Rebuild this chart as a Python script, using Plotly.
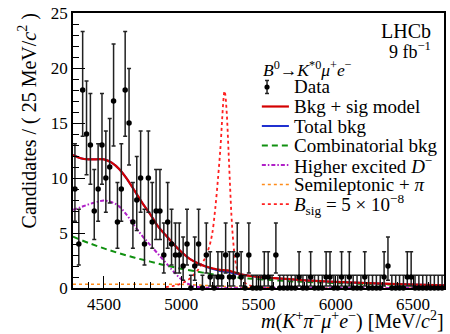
import numpy as np
import plotly.graph_objects as go

# ---------------- data ----------------
bin_low = 4300.0
bin_width = 25.0
counts = [9, 4, 18, 14, 13, 7, 9, 13, 10, 11, 17, 6, 9, 18, 15, 6, 8, 10, 4, 10,
          6, 7, 7, 3, 6, 4, 3, 3, 2, 4, 0, 2, 4, 0, 3, 1, 0, 1, 1, 3,
          1, 1, 3, 1, 0, 3, 0, 0, 0, 1, 1, 0, 3, 0, 0, 0, 0, 0, 1, 0,
          0, 1, 0, 0, 0, 1, 1, 0, 0, 1, 0, 1, 0, 0, 0, 1, 0, 0, 0, 0,
          1, 2, 0, 0, 0, 0, 1, 1, 0, 0, 0, 0, 0, 0, 0, 0]

# Poisson 68% interval half-widths (lower, upper) for n = 0..18
pois_low = [0.0, 0.827, 1.291, 1.633, 1.914, 2.159, 2.380, 2.581, 2.768, 2.943,
            3.108, 3.265, 3.414, 3.557, 3.695, 3.828, 3.957, 4.082, 4.204]
pois_up = [1.148, 2.299, 2.637, 2.918, 3.162, 3.382, 3.583, 3.770, 3.945, 4.109,
           4.265, 4.414, 4.556, 4.693, 4.824, 4.951, 5.074, 5.192, 5.308]

# model curves
tot_x = [4300, 4350, 4400, 4450, 4500, 4550, 4600, 4650, 4700, 4750, 4800, 4850, 4900,
         4950, 5000, 5050, 5100, 5150, 5200, 5250, 5300, 5350, 5400, 5450, 5500, 5600,
         5700, 5800, 5900, 6000, 6200, 6400, 6700]
tot_y = [12.1, 11.8, 11.7, 11.7, 11.7, 11.4, 10.8, 9.9, 8.8, 7.7, 6.7, 5.6, 4.8,
         4.0, 3.3, 2.7, 2.3, 2.0, 1.8, 1.65, 1.6, 1.4, 1.2, 1.1, 1.0, 0.9,
         0.8, 0.7, 0.62, 0.55, 0.45, 0.35, 0.25]
bkg_y = [12.1, 11.8, 11.7, 11.7, 11.7, 11.4, 10.8, 9.9, 8.8, 7.7, 6.7, 5.6, 4.8,
         4.0, 3.3, 2.7, 2.3, 2.0, 1.75, 1.55, 1.45, 1.3, 1.2, 1.1, 1.0, 0.9,
         0.8, 0.7, 0.62, 0.55, 0.45, 0.35, 0.25]

comb_x = [4300, 4400, 4500, 4600, 4700, 4800, 4900, 5000, 5100, 5200, 5300, 5400, 5500,
          5700, 5900, 6100, 6300, 6500, 6700]
comb_y = [4.67, 4.1, 3.6, 3.15, 2.75, 2.4, 2.05, 1.75, 1.5, 1.25, 1.05, 0.9, 0.8,
          0.62, 0.5, 0.4, 0.32, 0.26, 0.2]

dst_x = [4300, 4350, 4400, 4450, 4500, 4550, 4600, 4650, 4700, 4750, 4800, 4850, 4900,
         4950, 5000, 5050, 5100, 5150, 5200, 5300, 5500, 6700]
dst_y = [7.1, 7.35, 7.6, 7.8, 7.95, 7.8, 7.4, 6.6, 5.6, 4.7, 3.9, 3.1, 2.3,
         1.5, 0.8, 0.35, 0.12, 0.04, 0.01, 0.0, 0.0, 0.0]

semi_x = [4300, 4500, 4700, 4900, 5000, 5100, 5200, 5300, 5400, 5500, 6700]
semi_y = [0.35, 0.35, 0.35, 0.35, 0.33, 0.28, 0.2, 0.1, 0.04, 0.01, 0.0]

sig_x = [4900, 4950, 5000, 5050, 5100, 5150, 5180, 5200, 5220, 5240, 5255, 5265, 5275,
         5280, 5285, 5295, 5305, 5315, 5325, 5335, 5350, 5370, 5400, 5450, 5500, 5600]
sig_y = [0.08, 0.2, 0.4, 0.8, 1.5, 2.6, 3.7, 4.9, 7.2, 10.3, 13.0, 15.4, 17.4,
         17.9, 17.6, 15.8, 12.8, 9.6, 6.6, 4.5, 2.5, 1.3, 0.6, 0.2, 0.06, 0.01]

x_tickvals = [4500, 5000, 5500, 6000, 6500]
y_tickvals = [0, 5, 10, 15, 20, 25]

# ---------------- figure ----------------
centers = bin_low + bin_width * (np.arange(len(counts)) + 0.5)
err_up = [pois_up[n] for n in counts]
err_dn = [pois_low[n] for n in counts]

FONT = "Liberation Serif"
RED = "#d40000"
BLUE = "#2030d0"
GREEN = "#109010"
PURPLE = "#b020c8"
ORANGE = "#ff8c1a"
SIGRED = "#ff2020"
DASH_G = "6px,4px"
DASH_P = "4px,2px,1.5px,2px"

fig = go.Figure()
fig.add_trace(go.Scatter(x=semi_x, y=semi_y, mode="lines",
                         line=dict(color=ORANGE, width=1.5, dash="dot")))
fig.add_trace(go.Scatter(x=dst_x, y=dst_y, mode="lines", line_shape="spline",
                         line=dict(color=PURPLE, width=2, dash=DASH_P)))
fig.add_trace(go.Scatter(x=comb_x, y=comb_y, mode="lines", line_shape="spline",
                         line=dict(color=GREEN, width=2, dash=DASH_G)))
fig.add_trace(go.Scatter(x=sig_x, y=sig_y, mode="lines", line_shape="spline",
                         line=dict(color=SIGRED, width=1.8, dash="dot")))
fig.add_trace(go.Scatter(x=tot_x, y=bkg_y, mode="lines", line_shape="spline",
                         line=dict(color=BLUE, width=2)))
fig.add_trace(go.Scatter(x=tot_x, y=tot_y, mode="lines", line_shape="spline",
                         line=dict(color=RED, width=2.2)))
fig.add_trace(go.Scatter(x=centers, y=counts, mode="markers",
                         marker=dict(color="black", size=5.5),
                         cliponaxis=False,
                         error_y=dict(type="data", symmetric=False, array=err_up,
                                      arrayminus=err_dn, thickness=1.5, width=2,
                                      color="#222222")))

fig.update_layout(
    width=450, height=334,
    margin=dict(l=73, r=4, t=13, b=46),
    paper_bgcolor="white", plot_bgcolor="white",
    showlegend=False,
    font=dict(family=FONT, color="black"),
)
fig.update_xaxes(range=[4300, 6700], tickvals=x_tickvals, ticks="inside", ticklen=12,
                 tickwidth=1.2, tickcolor="black", showline=True, linecolor="black",
                 linewidth=1.5, mirror=True, showgrid=False, zeroline=False,
                 tickfont=dict(size=17, family=FONT),
                 minor=dict(dtick=100, ticks="inside", ticklen=6, tickcolor="black",
                            tickwidth=1, showgrid=False))
fig.update_yaxes(range=[0, 25], tickvals=y_tickvals, ticks="inside", ticklen=12,
                 tickwidth=1.2, tickcolor="black", showline=True, linecolor="black",
                 linewidth=1.5, mirror=True, showgrid=False, zeroline=False,
                 tickfont=dict(size=17, family=FONT),
                 minor=dict(dtick=1, ticks="inside", ticklen=6, tickcolor="black",
                            tickwidth=1, showgrid=False))

ann = []
ann.append(dict(text="Candidates / ( 25 MeV/<i>c</i><sup>2</sup> )", textangle=-90,
                xref="paper", yref="paper", x=-0.123, y=0.607, showarrow=False,
                xanchor="center", yanchor="middle", font=dict(size=20, family=FONT)))
ann.append(dict(text="<i>m</i>(<i>K</i><sup>+</sup><i>π</i><sup>−</sup><i>μ</i><sup>+</sup><i>e</i><sup>−</sup>) [MeV/<i>c</i><sup>2</sup>]",
                xref="paper", yref="paper", x=1.0, y=-0.118, xshift=2, showarrow=False,
                xanchor="right", yanchor="middle", font=dict(size=20, family=FONT)))
ann.append(dict(text="LHCb", xref="paper", yref="paper", x=0.9705, y=0.935,
                showarrow=False, xanchor="right", yanchor="middle",
                font=dict(size=20, family=FONT)))
ann.append(dict(text="9 fb<sup>−1</sup>", xref="paper", yref="paper", x=0.9705, y=0.865,
                showarrow=False, xanchor="right", yanchor="middle",
                font=dict(size=18, family=FONT)))
ann.append(dict(text="<i>B</i><sup>0</sup>→<i>K</i><sup>*0</sup><i>μ</i><sup>+</sup><i>e</i><sup>−</sup>",
                xref="paper", yref="paper", x=0.507, y=0.796, showarrow=False,
                xanchor="left", yanchor="middle", font=dict(size=17.5, family=FONT)))

leg_labels = ["Data", "Bkg + sig model", "Total bkg", "Combinatorial bkg",
              "Higher excited <i>D</i><sup>−</sup>", "Semileptonic + <i>π</i>",
              "<i>B</i><sub>sig</sub> = 5 × 10<sup>−8</sup>"]
leg_y = [0.731, 0.660, 0.589, 0.518, 0.447, 0.376, 0.305]
leg_styles = [None, (RED, "solid", 2.2), (BLUE, "solid", 2), (GREEN, DASH_G, 2),
              (PURPLE, DASH_P, 2), (ORANGE, "dot", 1.5), (SIGRED, "dot", 1.8)]
shapes = []
for lab, yy, st in zip(leg_labels, leg_y, leg_styles):
    ann.append(dict(text=lab, xref="paper", yref="paper", x=0.59, y=yy,
                    showarrow=False, xanchor="left", yanchor="middle",
                    font=dict(size=19, family=FONT)))
    if st is not None:
        shapes.append(dict(type="line", xref="paper", yref="paper", x0=0.509, x1=0.582,
                           y0=yy, y1=yy, line=dict(color=st[0], dash=st[1], width=st[2])))
    else:
        xc = 0.523
        h = 6.5 / 275
        w = 2.0 / 373
        shapes.append(dict(type="line", xref="paper", yref="paper", x0=xc, x1=xc,
                           y0=yy - h, y1=yy + h, line=dict(color="#222", width=1.5)))
        for dy in (-h, h):
            shapes.append(dict(type="line", xref="paper", yref="paper", x0=xc - w,
                               x1=xc + w, y0=yy + dy, y1=yy + dy,
                               line=dict(color="#222", width=1.5)))
        r = 2.6
        shapes.append(dict(type="circle", xref="paper", yref="paper",
                           x0=xc - r / 373, x1=xc + r / 373, y0=yy - r / 275,
                           y1=yy + r / 275, fillcolor="black", line=dict(width=0)))

fig.update_layout(annotations=ann, shapes=shapes)
fig.write_html("out.html", config={"displayModeBar": False},
               post_script="document.body.style.margin='0';")
